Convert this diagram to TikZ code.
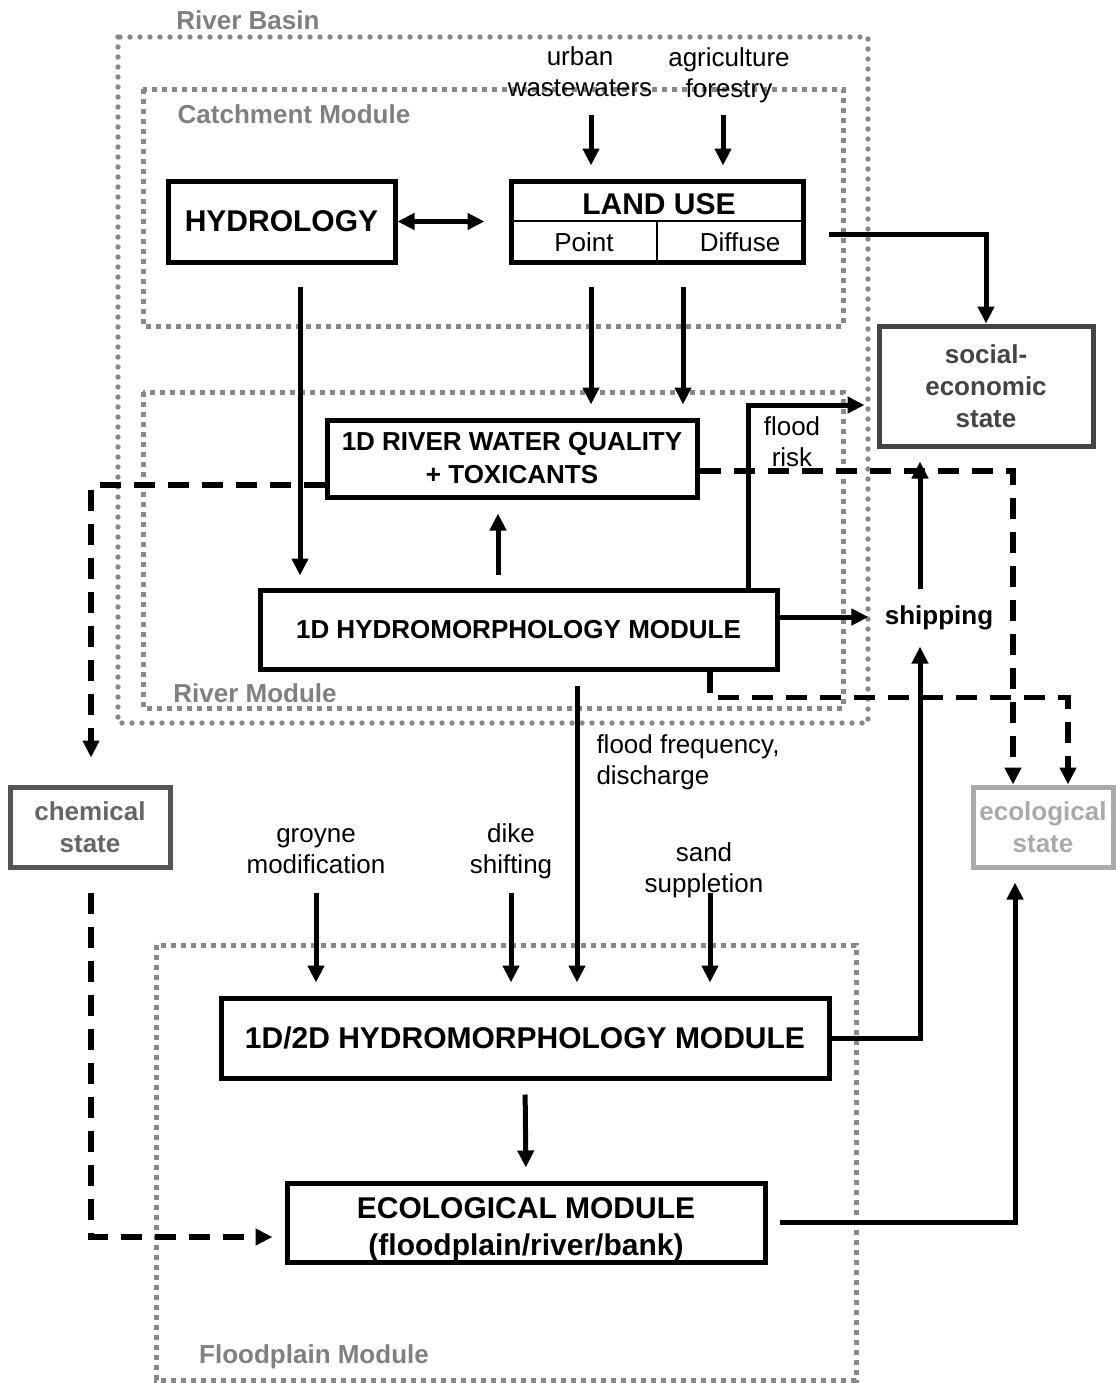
\documentclass[tikz,border=0pt]{standalone}
\usepackage{fontspec}
\setmainfont{Liberation Sans}
\usetikzlibrary{arrows.meta}

\definecolor{framegray}{HTML}{888888}
\definecolor{labelgray}{HTML}{808080}
\definecolor{sociogray}{HTML}{444444}
\definecolor{chemgray}{HTML}{555555}
\definecolor{chemtext}{HTML}{666666}
\definecolor{ecogray}{HTML}{AAAAAA}

\begin{document}
\begin{tikzpicture}[x=0.5pt,y=-0.5pt,
        font=\fontsize{13pt}{15.5pt}\selectfont,
        box/.style={draw,line width=2.5pt,inner sep=0pt,align=center,font=\fontsize{13pt}{16pt}\selectfont\bfseries},
        bigbox/.style={box,font=\fontsize{15pt}{18pt}\selectfont\bfseries},
        txt/.style={inner sep=0pt,align=center},
        framelabel/.style={inner sep=0pt,text=labelgray,font=\fontsize{13pt}{15.5pt}\selectfont\bfseries},
        basin/.style={draw=framegray,line width=2.7pt,line cap=round,dash pattern=on 0pt off 5pt},
        modframe/.style={draw=framegray,line width=2.5pt,dash pattern=on 2.6pt off 2.4pt},
        arr/.style={line width=2.5pt,-{Triangle[length=8.5pt,width=8pt]}},
        dblarr/.style={line width=2.5pt,{Triangle[length=8.5pt,width=8pt]}-{Triangle[length=8.5pt,width=8pt]}},
        darr/.style={arr,line width=2.8pt,dash pattern=on 10.5pt off 6.5pt}]
            \useasboundingbox (0,0) rectangle (1115,1383);

            \draw[basin] (118,37) rectangle (868,723);
            \draw[modframe] (143,89) rectangle (843,326);
            \draw[modframe] (143,392) rectangle (843,708);
            \draw[modframe] (156,945) rectangle (856,1380);
            \node[framelabel] (basinlabel) at (248,20) {River Basin};
            \node[framelabel] (catchlabel) at (294,114) {Catchment Module};
            \node[framelabel] (riverlabel) at (255,693) {River Module};
            \node[framelabel] (floodlabel) at (314,1357) {Floodplain Module};

            \node[bigbox,minimum width=113.5pt,minimum height=40.5pt] (hydrology) at (281.5,221.5) {HYDROLOGY};
            \node[box,minimum width=146pt,minimum height=40.5pt] (landuse) at (657,221.5) {};
            \node[txt,font=\fontsize{15pt}{18pt}\selectfont\bfseries] (landusetitle) at (659,204) {LAND USE};
            \node[txt] (point) at (584,242) {Point};
            \node[txt] (diffuse) at (740,242) {Diffuse};
            \node[box,minimum width=185pt,minimum height=38.5pt,font=\fontsize{13pt}{16.5pt}\selectfont\bfseries] (quality) at (512,458.5) {1D RIVER WATER QUALITY\\+ TOXICANTS};
            \node[box,minimum width=258.5pt,minimum height=39.5pt] (hydro1d) at (518.5,629.5) {1D HYDROMORPHOLOGY MODULE};
            \node[box,draw=sociogray,text=sociogray,minimum width=107pt,minimum height=60pt] (socio) at (986,386) {social-\\economic\\state};
            \node[box,draw=chemgray,text=chemtext,minimum width=80pt,minimum height=40pt] (chemical) at (90,827) {chemical\\state};
            \node[box,draw=ecogray,text=ecogray,minimum width=70pt,minimum height=40pt] (ecostate) at (1043,827) {ecological\\state};
            \node[bigbox,minimum width=304pt,minimum height=40pt] (hydro2d) at (525,1038) {1D/2D HYDROMORPHOLOGY MODULE};
            \node[bigbox,minimum width=239pt,minimum height=39.5pt] (ecomodule) at (526,1222.5) {\raisebox{-3.5pt}[\height][\depth]{\begin{tabular}{@{}c@{}}ECOLOGICAL MODULE\\[0.5pt](floodplain/river/bank)\end{tabular}}};
            \node[inner sep=8pt,font=\fontsize{13pt}{15.5pt}\selectfont\bfseries] (shipping) at (939,618) {shipping};

            \node[txt] (urban) at (580,72) {urban\\wastewaters};
            \node[txt] (agri) at (729,75) {agriculture\\forestry};
            \node[txt] (floodrisk) at (792,442) {flood\\risk};
            \node[txt] (groyne) at (316,851) {groyne\\modification};
            \node[txt] (dike) at (511,851) {dike\\shifting};
            \node[txt] (sand) at (704,870) {sand\\suppletion};

            \coordinate (urbanfoot) at (591,115);
            \coordinate (agrifoot) at (723,115);
            \coordinate (pointfoot) at (591,287);
            \coordinate (diffusefoot) at (683,287);
            \coordinate (hydrofoot) at (300,287);
            \coordinate (groynefoot) at (316,893);
            \coordinate (dikefoot) at (511,893);
            \coordinate (sandfoot) at (710,893);

            \draw[line width=1.2pt] (landuse.west |- 0,221) -- (landuse.east |- 0,221);
            \draw[line width=1.2pt] (657,221) -- (landuse.south -| 657,0);

            \draw[arr,shorten >=6.5pt] (urbanfoot) -- (urbanfoot |- landuse.north);
            \draw[arr,shorten >=6.5pt] (agrifoot) -- (agrifoot |- landuse.north);
            \draw[dblarr,shorten >=12pt] (hydrology.east) -- (landuse.west);
            \draw[arr] ([xshift=11.5pt,yshift=-6.25pt]landuse.east) -| (socio.north);
            \draw[arr,shorten >=6.5pt] (pointfoot) -- (pointfoot |- quality.north);
            \draw[arr,shorten >=6.5pt] (diffusefoot) -- (diffusefoot |- quality.north);
            \draw[arr,shorten >=6pt] (hydrofoot) -- (hydrofoot |- hydro1d.north);
            \draw[arr,shorten <=6.5pt,shorten >=7pt] (hydro1d.north -| 498,0) -- (quality.south -| 498,0);
            \draw[arr,shorten >=6pt] (hydro1d.north -| 748,0) |- (socio.west |- 0,405);
            \draw[arr] (hydro1d.east |- 0,617) -- (shipping.west |- 0,617);
            \draw[arr,shorten >=6.5pt] (shipping.north -| 920,0) -- (socio.south -| 920,0);
            \draw[arr] (hydro2d.east) -| (shipping.south -| 920,0);
            \draw[arr,shorten <=7pt,shorten >=6.5pt] (hydro1d.south -| 577,0) -- node[txt,align=left,anchor=west,xshift=8.5pt,pos=0.28] {flood frequency,\\discharge} (hydro2d.north -| 577,0);
            \draw[arr,shorten >=6.5pt] (groynefoot) -- (groynefoot |- hydro2d.north);
            \draw[arr,shorten >=6.5pt] (dikefoot) -- (dikefoot |- hydro2d.north);
            \draw[arr,shorten >=6.5pt] (sandfoot) -- (sandfoot |- hydro2d.north);
            \draw[arr,shorten <=7pt,shorten >=6.5pt] (hydro2d.south) -- (ecomodule.north);
            \draw[arr,shorten <=6pt,shorten >=6.5pt] (ecomodule.east) -| (ecostate.south -| 1015,0);

            \draw[darr,shorten >=13.5pt] (quality.west |- 0,485) -| (chemical.north -| 91,0);
            \draw[darr,shorten <=11.5pt,shorten >=6pt] (chemical.south -| 91,0) |- (ecomodule.west |- 0,1237);
            \draw[darr] (quality.east |- 0,471) -| (ecostate.north -| 1013,0);
            \draw[darr] (hydro1d.south -| 710,0) -- ++(0,26) -| (ecostate.north -| 1068,0);
        \end{tikzpicture}
\end{document}
